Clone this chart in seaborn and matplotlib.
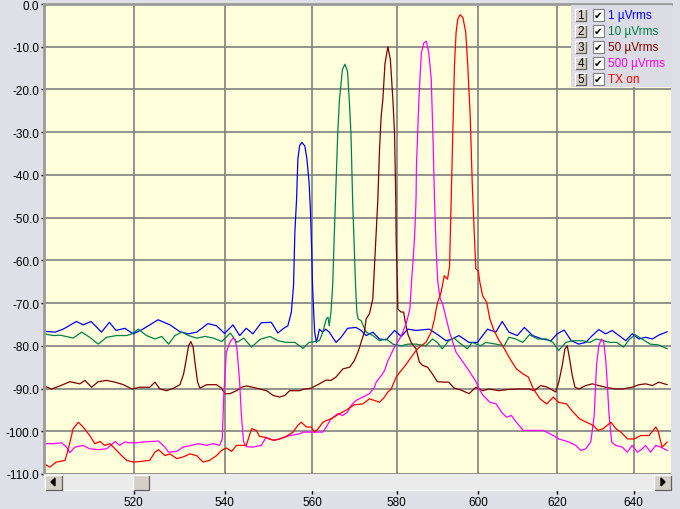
import numpy as np
import pandas as pd
import matplotlib
matplotlib.use('Agg')
import matplotlib.pyplot as plt
import seaborn as sns
from matplotlib.patches import Rectangle, Polygon
from matplotlib.ticker import FixedLocator, NullLocator

# ── Data ──────────────────────────────────────────────────────────────
traces = ['1 µVrms', '10 µVrms', '50 µVrms', '500 µVrms', 'TX on']
trace_colors = ['#0000ff', '#008048', '#800000', '#ff00ff', '#ff0000']
x_ticks = [520, 540, 560, 580, 600, 620, 640]
y_ticks = [0, -10, -20, -30, -40, -50, -60, -70, -80, -90, -100, -110]

freq_1uv = [501.0, 503.3, 505.0, 507.8, 509.2, 510.9, 513.1, 514.8, 516.2, 518.1,
            519.9, 522.0, 525.3, 527.9, 530.1, 531.9, 533.8, 536.3, 538.2, 540.0,
            541.9, 543.4, 544.9, 546.4, 548.3, 550.6, 552.1, 553.3, 554.4, 555.2,
            555.7, 556.0, 556.4, 556.7, 557.1, 557.6, 558.3, 558.8, 559.3, 559.6,
            559.9, 560.1, 560.4, 560.6, 561.0, 561.3, 561.7, 562.4, 563.2, 564.0,
            565.6, 566.8, 568.3, 570.3, 571.5, 572.7, 574.3, 575.9, 577.5, 579.5,
            581.1, 582.7, 584.7, 587.9, 590.3, 592.0, 593.6, 595.2, 597.7, 599.8,
            602.3, 604.4, 606.0, 607.7, 609.8, 611.6, 613.7, 616.2, 618.4, 620.0,
            621.8, 623.6, 625.6, 627.4, 629.1, 630.8, 632.6, 634.3, 636.1, 637.9,
            639.6, 641.4, 643.2, 645.0, 646.7, 649.0]
level_1uv = [-76.6, -76.8, -76.1, -74.3, -75.1, -74.3, -76.8, -74.5, -76.4, -75.9,
             -77.2, -76.1, -73.9, -75.1, -76.7, -77.2, -76.8, -74.8, -75.3, -77.1,
             -75.1, -77.6, -75.9, -77.2, -74.6, -74.5, -77.0, -76.0, -75.3, -72.1,
             -65.9, -53.5, -45.7, -36.3, -33.2, -32.4, -33.2, -36.3, -41.8, -48.0,
             -57.4, -65.9, -72.9, -76.8, -79.2, -78.0, -76.1, -76.8, -76.1, -76.8,
             -79.2, -78.0, -75.9, -75.7, -76.4, -77.6, -76.8, -78.4, -78.6, -76.4,
             -77.8, -76.1, -76.4, -76.1, -77.6, -78.8, -78.4, -77.6, -79.2, -79.2,
             -76.1, -76.8, -74.3, -76.8, -77.6, -75.7, -77.6, -78.4, -78.8, -77.2,
             -76.3, -78.8, -79.6, -79.2, -77.6, -76.2, -77.2, -76.4, -77.6, -78.8,
             -77.2, -78.4, -78.0, -78.4, -77.5, -76.7]

freq_10uv = [501.0, 503.0, 504.3, 506.4, 507.1, 508.9, 510.6, 512.4, 514.2, 516.3,
             518.5, 519.6, 521.0, 522.8, 524.6, 526.1, 527.6, 529.0, 530.5, 532.0,
             533.8, 535.7, 537.5, 539.4, 541.3, 542.8, 544.3, 546.1, 548.0, 550.3,
             552.1, 554.0, 556.0, 557.9, 559.3, 560.6, 561.7, 562.5, 563.3, 563.7,
             564.0, 564.4, 564.8, 565.2, 565.6, 566.0, 566.4, 567.1, 567.7, 568.3,
             568.7, 569.1, 569.5, 569.9, 570.2, 570.5, 570.8, 571.5, 572.7, 574.3,
             575.9, 577.5, 579.1, 581.1, 582.7, 584.7, 587.1, 588.7, 589.9, 591.1,
             592.7, 594.0, 595.2, 597.3, 598.5, 600.6, 601.9, 604.4, 606.5, 607.7,
             609.4, 611.2, 612.9, 615.0, 617.2, 618.9, 620.4, 622.2, 624.0, 626.6,
             628.4, 630.2, 632.0, 633.7, 635.5, 637.3, 639.0, 640.4, 642.2, 644.4,
             646.7, 649.0]
level_10uv = [-77.2, -77.6, -77.5, -78.0, -78.2, -76.8, -78.0, -79.6, -78.0, -77.6,
              -77.6, -77.2, -76.1, -77.6, -78.4, -77.8, -79.6, -77.6, -76.8, -77.6,
              -78.2, -77.8, -78.2, -79.0, -77.0, -79.2, -78.2, -80.3, -78.5, -77.8,
              -78.8, -79.2, -79.2, -80.6, -79.2, -79.0, -78.8, -76.8, -73.7, -73.3,
              -75.3, -72.1, -65.9, -53.5, -41.8, -30.1, -22.3, -15.3, -14.1, -15.8,
              -22.3, -30.1, -45.7, -57.4, -65.9, -72.1, -73.7, -74.1, -76.8, -77.6,
              -78.8, -78.4, -79.6, -80.0, -79.6, -79.6, -80.0, -78.4, -79.2, -80.7,
              -78.8, -78.2, -79.2, -80.7, -79.2, -80.0, -79.2, -79.6, -80.0, -78.0,
              -78.4, -79.2, -77.4, -78.4, -78.4, -79.2, -81.1, -79.2, -78.8, -78.8,
              -79.2, -78.4, -78.8, -79.2, -79.2, -80.3, -78.4, -77.4, -78.4, -79.6,
              -79.8, -80.7]

freq_50uv = [501.0, 502.6, 504.3, 506.4, 508.5, 509.6, 511.0, 512.4, 514.2, 516.0,
             517.8, 519.6, 521.3, 523.5, 524.6, 525.7, 527.2, 528.7, 530.1, 530.9,
             531.5, 532.0, 532.5, 533.0, 533.5, 534.0, 534.5, 536.0, 538.2, 539.3,
             540.1, 541.2, 542.7, 543.8, 544.9, 546.4, 547.9, 549.5, 551.0, 552.5,
             553.7, 554.8, 557.1, 557.9, 559.8, 561.7, 563.3, 564.4, 565.6, 567.2,
             568.8, 569.9, 570.9, 571.5, 572.3, 572.5, 572.7, 573.5, 574.3, 574.7,
             575.1, 575.5, 575.9, 576.3, 576.7, 577.2, 577.9, 578.5, 579.1, 579.5,
             579.8, 579.9, 580.2, 580.3, 581.1, 581.7, 582.1, 582.7, 583.5, 584.7,
             585.5, 586.3, 587.5, 588.7, 589.9, 591.5, 592.7, 594.0, 595.2, 596.1,
             597.7, 599.4, 601.1, 602.7, 605.2, 607.7, 610.3, 612.8, 614.1, 615.8,
             617.5, 619.6, 620.4, 621.3, 622.0, 622.6, 623.2, 623.9, 624.6, 625.6,
             627.4, 629.1, 630.8, 632.6, 635.2, 637.0, 639.6, 641.4, 643.2, 645.0,
             646.7, 649.0]
level_50uv = [-89.4, -90.1, -89.4, -88.4, -88.9, -88.1, -89.7, -88.4, -88.1, -88.5,
              -89.1, -90.1, -89.7, -89.7, -88.5, -90.1, -90.5, -89.9, -89.1, -86.6,
              -83.1, -80.0, -79.0, -80.3, -84.6, -88.5, -89.9, -89.1, -89.1, -89.9,
              -91.2, -91.2, -90.5, -89.7, -89.4, -89.7, -90.1, -90.5, -91.6, -92.0,
              -91.6, -90.5, -90.5, -90.2, -89.9, -88.9, -88.0, -88.1, -87.3, -85.4,
              -85.0, -83.5, -81.1, -79.2, -76.8, -75.3, -73.7, -72.5, -69.0, -61.3,
              -53.5, -45.7, -34.0, -26.2, -22.3, -14.0, -10.0, -13.0, -22.3, -30.1,
              -45.7, -55.8, -65.9, -71.4, -72.1, -72.1, -74.5, -77.2, -79.2, -80.7,
              -83.8, -84.6, -85.0, -86.6, -88.4, -88.5, -88.5, -89.9, -90.2, -90.5,
              -91.2, -89.7, -90.5, -90.1, -90.5, -90.2, -90.1, -90.1, -90.5, -89.3,
              -89.7, -90.8, -88.5, -84.6, -80.7, -80.0, -83.1, -87.0, -89.7, -90.1,
              -89.3, -88.9, -89.3, -89.7, -90.1, -90.1, -89.7, -89.1, -88.9, -89.3,
              -88.5, -89.1]

freq_500uv = [501.0, 503.0, 504.7, 505.7, 506.4, 507.5, 509.2, 510.6, 512.4, 514.2,
              516.0, 517.0, 518.1, 519.2, 520.6, 522.0, 523.8, 525.4, 526.8, 527.6,
              529.4, 530.8, 532.6, 534.1, 536.0, 537.5, 538.9, 539.5, 539.8, 540.4,
              541.2, 541.9, 542.3, 542.8, 543.4, 543.8, 544.3, 544.9, 546.4, 548.3,
              549.4, 551.0, 552.5, 554.4, 557.1, 557.9, 560.2, 562.5, 563.3, 564.4,
              566.0, 567.2, 568.3, 569.1, 570.3, 571.9, 573.5, 574.7, 575.1, 576.3,
              577.1, 577.9, 578.7, 579.5, 580.7, 581.5, 582.4, 583.2, 583.6, 584.0,
              584.4, 584.7, 584.8, 585.1, 585.4, 585.6, 586.0, 586.6, 587.2, 587.8,
              588.4, 588.8, 589.2, 589.6, 590.0, 590.6, 591.2, 592.1, 592.9, 594.5,
              596.2, 597.4, 598.7, 599.5, 600.2, 601.2, 602.9, 604.5, 605.8, 607.1,
              608.3, 609.6, 611.3, 613.9, 616.4, 619.0, 620.4, 623.0, 624.8, 626.1,
              627.4, 628.7, 629.6, 630.2, 630.8, 631.5, 632.1, 632.6, 633.0, 633.5,
              634.2, 635.2, 637.0, 638.3, 639.6, 641.0, 642.3, 643.2, 644.5, 645.9,
              647.2, 649.0]
level_500uv = [-102.9, -102.9, -102.7, -103.7, -105.0, -103.7, -103.3, -104.1, -104.3, -104.1,
               -102.4, -103.3, -102.5, -102.7, -102.7, -102.5, -102.4, -102.3, -103.7, -104.9,
               -104.7, -103.7, -103.3, -102.9, -103.3, -102.9, -103.3, -101.8, -92.4, -81.5,
               -79.2, -78.2, -78.4, -80.7, -88.5, -96.3, -102.5, -103.6, -103.7, -103.3,
               -101.4, -102.1, -101.8, -101.1, -100.6, -100.2, -100.2, -100.2, -99.0, -97.1,
               -95.9, -96.3, -95.5, -94.0, -92.8, -92.0, -91.2, -89.7, -88.5, -87.0,
               -85.8, -83.5, -81.9, -80.3, -78.4, -76.8, -74.5, -71.4, -65.1, -59.7,
               -53.5, -45.7, -37.9, -30.1, -22.3, -18.4, -11.4, -9.1, -8.7, -11.4,
               -17.6, -30.1, -45.7, -57.4, -65.1, -69.0, -70.2, -73.7, -76.8, -81.5,
               -83.8, -85.4, -87.3, -88.5, -90.1, -91.6, -93.2, -93.6, -95.5, -96.7,
               -96.3, -97.9, -99.8, -99.8, -99.8, -101.0, -101.8, -102.5, -103.3, -104.5,
               -104.1, -102.5, -96.3, -84.6, -80.0, -78.4, -79.2, -83.1, -88.5, -96.3,
               -102.5, -103.3, -103.7, -104.9, -103.3, -104.9, -104.1, -103.3, -104.9, -103.3,
               -103.7, -104.5]

freq_tx = [501.0, 502.2, 503.6, 505.4, 506.1, 507.1, 508.2, 509.2, 510.6, 511.7,
           512.8, 513.8, 514.9, 516.0, 517.4, 518.5, 519.9, 521.3, 523.5, 524.6,
           525.4, 526.8, 527.9, 529.4, 530.8, 532.3, 533.8, 535.2, 536.7, 538.2,
           539.3, 540.4, 541.6, 542.7, 543.8, 544.9, 546.1, 547.2, 547.9, 549.1,
           550.3, 551.4, 552.5, 554.0, 555.6, 556.7, 557.5, 558.7, 559.8, 560.6,
           561.4, 562.5, 563.3, 564.4, 566.4, 567.9, 569.9, 571.9, 573.5, 574.7,
           575.9, 577.1, 577.9, 578.7, 579.9, 581.1, 582.4, 583.5, 584.7, 585.5,
           587.1, 588.4, 589.2, 589.6, 590.0, 590.8, 591.6, 592.4, 592.9, 593.3,
           593.7, 594.1, 594.5, 594.9, 595.5, 596.2, 596.9, 597.4, 598.0, 598.5,
           599.0, 599.4, 600.0, 600.4, 601.1, 602.1, 602.9, 603.8, 605.0, 606.3,
           608.0, 609.6, 611.3, 612.6, 613.9, 615.6, 617.3, 619.0, 620.3, 622.4,
           624.1, 625.8, 627.6, 629.3, 630.6, 631.9, 634.0, 635.3, 636.6, 638.4,
           640.1, 641.9, 644.1, 645.9, 646.6, 647.6, 649.0]
level_tx = [-107.6, -108.4, -107.2, -106.8, -104.1, -99.4, -97.9, -99.0, -101.0, -102.9,
            -102.4, -103.3, -102.9, -104.1, -105.7, -106.8, -107.2, -107.1, -106.8, -104.9,
            -104.3, -105.7, -105.3, -106.4, -106.0, -105.3, -105.7, -107.2, -106.8, -105.7,
            -104.5, -103.9, -104.7, -103.3, -103.3, -103.3, -99.4, -99.8, -101.2, -101.4,
            -101.9, -102.1, -101.8, -101.2, -100.2, -98.6, -97.9, -99.0, -99.0, -100.2,
            -99.4, -97.9, -97.5, -97.1, -95.9, -95.1, -93.8, -93.6, -92.4, -92.8,
            -93.2, -92.0, -90.8, -90.1, -87.3, -85.8, -84.2, -82.7, -81.1, -80.3,
            -79.2, -76.8, -73.7, -71.4, -69.8, -67.5, -63.6, -64.4, -61.3, -45.7,
            -30.1, -14.5, -6.7, -3.6, -2.5, -3.2, -6.7, -14.5, -26.2, -41.8,
            -53.5, -62.0, -62.4, -65.1, -68.3, -69.8, -73.7, -76.1, -78.4, -80.3,
            -83.1, -85.4, -86.6, -87.3, -90.1, -92.4, -93.6, -92.0, -93.2, -93.6,
            -95.5, -97.1, -97.9, -98.6, -99.8, -99.4, -97.9, -99.4, -100.2, -101.8,
            -101.8, -101.0, -101.0, -99.0, -100.2, -103.7, -102.5]

freqs = [freq_1uv, freq_10uv, freq_50uv, freq_500uv, freq_tx]
levels = [level_1uv, level_10uv, level_50uv, level_500uv, level_tx]

frames = []
for name, fx, fy in zip(traces, freqs, levels):
    assert len(fx) == len(fy), name
    frames.append(pd.DataFrame({'freq': fx, 'level': fy, 'trace': name}))
df = pd.concat(frames, ignore_index=True)

# ── Style ──────────────────────────────────────────────────────────────
BG = '#dfdfe7'
PLOT_BG = '#ffffdc'
GRID = '#808080'
BTN = '#d4d0c8'
FS = 8.5

sns.set_theme(style='white')
plt.rcParams['font.family'] = ['Liberation Sans', 'DejaVu Sans']

W, H = 680, 510
fig = plt.figure(figsize=(W / 100, H / 100), dpi=100, facecolor=BG)

# main plot area
ax = fig.add_axes([44 / W, 1 - 475 / H, 627 / W, 470 / H])
ax.set_facecolor(PLOT_BG)
sns.lineplot(data=df, x='freq', y='level', hue='trace', hue_order=traces,
             palette=trace_colors, estimator=None, sort=False, legend=False,
             linewidth=0.9, ax=ax)
ax.set_xscale('log')
ax.set_xlim(501, 650)
ax.set_ylim(-110, 0)
ax.xaxis.set_major_locator(FixedLocator(x_ticks))
ax.xaxis.set_minor_locator(NullLocator())
ax.set_xticklabels([])
ax.set_yticks(y_ticks)
ax.set_yticklabels([f'{v:.1f}' for v in y_ticks])
ax.tick_params(axis='x', length=0)
ax.tick_params(axis='y', length=2, width=1, color='black', pad=1.5,
               labelsize=FS, labelcolor='black', left=True)
ax.set_xlabel('')
ax.set_ylabel('')
ax.grid(True, color=GRID, linewidth=1.2)
ax.set_axisbelow(True)
for side in ['right', 'bottom']:
    ax.spines[side].set_visible(False)
for side in ['left', 'top']:
    ax.spines[side].set_color('#9a9a9a')
    ax.spines[side].set_linewidth(2.0)

# scrollbar strip with the x tick labels underneath
sax = fig.add_axes([44 / W, 1 - 491 / H, 627 / W, 16 / H])
sax.set_facecolor('#ebebeb')
sax.set_xscale('log')
sax.set_xlim(501, 650)
sax.set_ylim(0, 1)
sax.xaxis.set_major_locator(FixedLocator(x_ticks))
sax.xaxis.set_minor_locator(NullLocator())
sax.set_xticklabels([str(v) for v in x_ticks])
sax.set_yticks([])
sax.tick_params(axis='x', length=3, width=1, color='black', pad=1.5,
                labelsize=FS, labelcolor='black', bottom=True, direction='out')
for side in ['left', 'right', 'top']:
    sax.spines[side].set_visible(False)
sax.spines['bottom'].set_color('white')
sax.spines['bottom'].set_linewidth(1.0)

# overlay in pixel units for the widgets (legend panel, scroll buttons)
ov = fig.add_axes([0, 0, 1, 1])
ov.set_xlim(0, W)
ov.set_ylim(H, 0)
ov.axis('off')


def button(x, y, w, h):
    ov.add_patch(Rectangle((x, y), w, h, facecolor=BTN, edgecolor='none'))
    ov.plot([x, x + w, x + w], [y + h, y + h, y], color='#606060', lw=0.9)
    ov.plot([x, x, x + w], [y + h, y, y], color='white', lw=0.9)


# scrollbar buttons
button(45, 475.5, 17, 15)
ov.add_patch(Polygon([(51, 483), (55, 479), (55, 487)], closed=True, color='black'))
button(133, 475.5, 16, 15)
button(654, 475.5, 17, 15)
ov.add_patch(Polygon([(665, 483), (661, 479), (661, 487)], closed=True, color='black'))

# legend panel
ov.add_patch(Rectangle((571, 6), 101, 82, facecolor='#dcdce4', edgecolor='none'))
for i, (name, col) in enumerate(zip(traces, trace_colors)):
    yc = 15.5 + 16 * i
    button(575, yc - 6, 11, 12)
    ov.text(580.5, yc + 0.5, str(i + 1), ha='center', va='center', fontsize=FS,
            color='black')
    ov.add_patch(Rectangle((593, yc - 6), 11, 12, facecolor='white',
                           edgecolor='#808080', lw=0.8))
    ov.text(598.5, yc + 0.5, '✔', ha='center', va='center', fontsize=7.5,
            color='black', family=['DejaVu Sans'])
    ov.text(608.5, yc + 0.5, name, ha='left', va='center', fontsize=FS, color=col)

fig.savefig('out.png', dpi=100, facecolor=BG)
